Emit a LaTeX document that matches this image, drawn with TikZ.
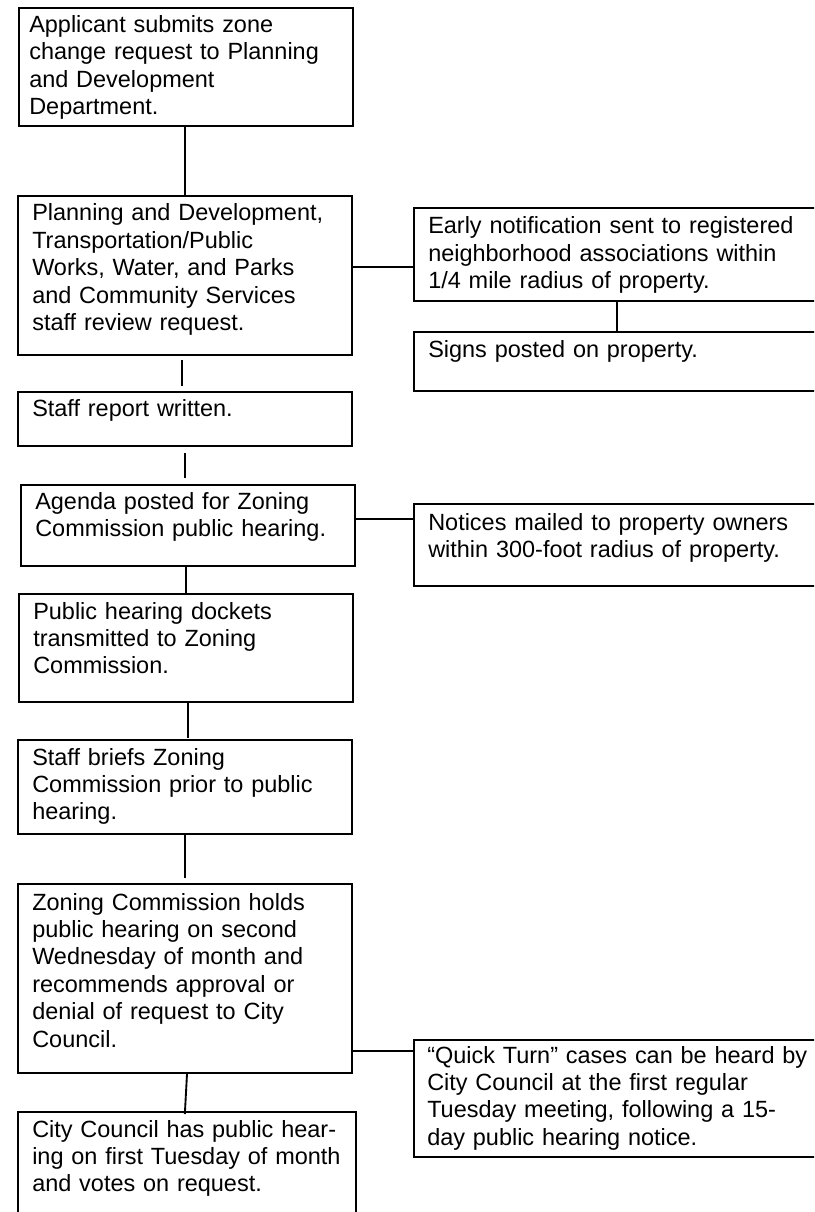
\documentclass[tikz,border=0pt]{standalone}
\usepackage{fontspec}
\setmainfont{Liberation Sans}
\usetikzlibrary{fit}
\tikzset{
  box/.style={draw, line width=1.5pt, inner sep=0pt, rectangle},
  txt/.style={anchor=base west, inner sep=0pt, text width=420pt, align=left,
    font=\fontsize{17.6}{20.6}\selectfont},
  link/.style={line width=1.4pt}
}
\begin{document}
\begin{tikzpicture}[x={(0.75pt,0)}, y={(0,-0.75pt)}]
\useasboundingbox (0,0) rectangle (814,1212);
\clip (0,0) rectangle (814,1212);
% main column boxes
\node[box, fit={(19,8) (353,126)}] (b1) {};
\node[box, fit={(18,196) (352,355)}] (b2) {};
\node[box, fit={(18,392) (352,446)}] (b3) {};
\node[box, fit={(21,485) (355,566)}] (b4) {};
\node[box, fit={(19,594) (353,702)}] (b5) {};
\node[box, fit={(18,740) (352,834)}] (b6) {};
\node[box, fit={(18,884) (352,1073)}] (b7) {};
\node[box, fit={(18,1112) (356,1230)}] (b8) {};
% side boxes
\node[box, fit={(414,208) (820,301)}] (r1) {};
\node[box, fit={(414,332) (820,391)}] (r2) {};
\node[box, fit={(414,504) (820,586)}] (r3) {};
\node[box, fit={(414,1040) (820,1157)}] (r4) {};
% texts
\node[txt] (t1) at (29,32.5) {Applicant submits zone\\change request to Planning\\and Development\\Department.};
\node[txt] (t2) at (32,221) {Planning and Development,\\Transportation/Public\\Works, Water, and Parks\\and Community Services\\staff review request.};
\node[txt] (t3) at (32,416) {Staff report written.};
\node[txt] (t4) at (35,509) {Agenda posted for Zoning\\Commission public hearing.};
\node[txt] (t5) at (33,619) {Public hearing dockets\\transmitted to Zoning\\Commission.};
\node[txt] (t6) at (32,765) {Staff briefs Zoning\\Commission prior to public\\hearing.};
\node[txt] (t7) at (32,910) {Zoning Commission holds\\public hearing on second\\Wednesday of month and\\recommends approval or\\denial of request to City\\Council.};
\node[txt] (t8) at (32,1137) {City Council has public hear-\\ing on first Tuesday of month\\and votes on request.};
\node[txt] (tr1) at (428,234) {Early notification sent to registered\\neighborhood associations within\\1/4 mile radius of property.};
\node[txt] (tr2) at (428,357) {Signs posted on property.};
\node[txt] (tr3) at (428,530) {Notices mailed to property owners\\within 300-foot radius of property.};
\node[txt] (tr4) at (427,1063) {“Quick Turn” cases can be heard by\\City Council at the first regular\\Tuesday meeting, following a 15-\\day public hearing notice.};
% vertical connectors
\draw[link] ([xshift=-0.75pt]b1.south) -- (b2.north);
\draw[link, shorten <=3pt, shorten >=3.75pt] ([xshift=-2.25pt]b2.south) -- ([xshift=-2.25pt]b3.north);
\draw[link, shorten <=4.5pt, shorten >=4.5pt] (b3.south) -- ([xshift=-2.25pt]b4.north);
\draw[link] ([xshift=-1.5pt]b4.south) -- (b5.north);
\draw[link, shorten >=0.75pt] ([xshift=1.5pt]b5.south) -- ([xshift=2.25pt]b6.north);
\draw[link, shorten >=3.75pt] (b6.south) -- (b7.north);
\draw[link, shorten >=-2.25pt] ([xshift=1.5pt]b7.south) -- ([xshift=-1.5pt]b8.north);
\draw[link] (r1.south) -- (r2.north);
% horizontal connectors
\draw[link] ([yshift=6.4pt]b2.east) -- ([yshift=-9.4pt]r1.west);
\draw[link] ([yshift=4.9pt]b4.east) -- ([yshift=19.5pt]r3.west);
\draw[link] ([yshift=-54.4pt]b7.east) -- ([yshift=35.6pt]r4.west);
\end{tikzpicture}
\end{document}
